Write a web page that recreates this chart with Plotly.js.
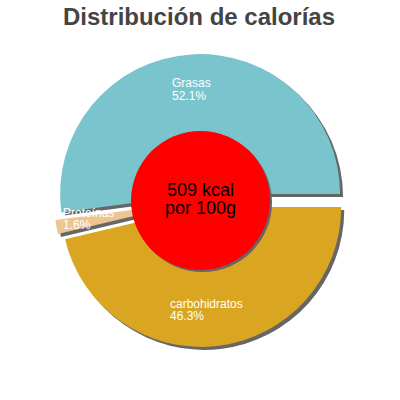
<!DOCTYPE html>
<html>
<head>
<meta charset="utf-8">
<script src="https://cdn.plot.ly/plotly-3.0.1.min.js"></script>
<style>html,body{margin:0;padding:0;background:#fff;}#chart{width:400px;height:400px;}</style>
</head>
<body>
<div id="chart"></div>
<script>
const categories = ["Grasas", "Proteínas", "carbohidratos"];
const values = [52.1, 1.6, 46.3];
const colors = ["#7AC5CD", "#EEC591", "#DAA520"];
const titleText = "Distribución de calorías";
const centerLines = ["509 kcal", "por 100g"];
// label anchor positions in pixels (left x, name mid y, percent mid y)
const labelPos = [[170, 83, 96], [61, 212.5, 225], [168, 303.5, 315.5]];

const W = 400, H = 400;
const px = v => v / W;
const py = v => 1 - v / H;

const cx = 200.5, cy = 200.5, R = 140, pull = 0.046;
const half = R * (1 + pull);
const dom = {x: [px(cx - half), px(cx + half)], y: [py(cy + half), py(cy - half)]};
const sh = 3;
const shadowDom = {x: [px(cx - half + sh), px(cx + half + sh)], y: [py(cy + half + sh), py(cy - half + sh)]};

const total = values.reduce((a, b) => a + b, 0);
// first slice starts at 3 o'clock and runs counterclockwise
const rotation = 90 - values[0] / total * 360;

const common = {
  type: 'pie', values: values, labels: categories, sort: false,
  direction: 'counterclockwise', rotation: rotation, pull: values.map(() => pull),
  textinfo: 'none', hoverinfo: 'none', showlegend: false
};
const data = [
  Object.assign({}, common, {domain: shadowDom, marker: {colors: values.map(() => '#666666'), line: {width: 0}}}),
  Object.assign({}, common, {domain: dom, marker: {colors: colors, line: {width: 0}}})
];

const annotations = [];
categories.forEach((c, i) => {
  const pct = (values[i] / total * 100).toFixed(1) + '%';
  const [lx, ny, pyy] = labelPos[i];
  const f = {family: 'Liberation Sans, Arial, sans-serif', size: 12, color: '#ffffff'};
  annotations.push({xref: 'paper', yref: 'paper', x: px(lx), y: py(ny), xanchor: 'left', yanchor: 'middle', text: c, showarrow: false, font: f});
  annotations.push({xref: 'paper', yref: 'paper', x: px(lx), y: py(pyy), xanchor: 'left', yanchor: 'middle', text: pct, showarrow: false, font: f});
});
annotations.push({xref: 'paper', yref: 'paper', x: px(200.5), y: py(189.5), xanchor: 'center', yanchor: 'middle', text: centerLines[0], showarrow: false, font: {family: 'Liberation Sans, Arial, sans-serif', size: 18, color: '#000000'}});
annotations.push({xref: 'paper', yref: 'paper', x: px(200.5), y: py(207.5), xanchor: 'center', yanchor: 'middle', text: centerLines[1], showarrow: false, font: {family: 'Liberation Sans, Arial, sans-serif', size: 18, color: '#000000'}});

const cr = 69.5, cs = 2;
const shapes = [
  {type: 'circle', xref: 'paper', yref: 'paper', layer: 'above', x0: px(cx - cr + cs), x1: px(cx + cr + cs), y0: py(cy + cr + cs), y1: py(cy - cr + cs), fillcolor: '#666666', line: {width: 0}},
  {type: 'circle', xref: 'paper', yref: 'paper', layer: 'above', x0: px(cx - cr), x1: px(cx + cr), y0: py(cy + cr), y1: py(cy - cr), fillcolor: '#ff0000', line: {width: 0}}
];

const layout = {
  width: W, height: H,
  margin: {l: 0, r: 0, t: 0, b: 0},
  paper_bgcolor: '#ffffff',
  title: {text: '<b>' + titleText + '</b>', x: 0.4975, xanchor: 'center', y: py(17), yanchor: 'middle', font: {family: 'Liberation Sans, Arial, sans-serif', size: 24, color: '#444444'}},
  annotations: annotations,
  shapes: shapes
};
Plotly.newPlot('chart', data, layout, {displayModeBar: false, staticPlot: true});
</script>
</body>
</html>
